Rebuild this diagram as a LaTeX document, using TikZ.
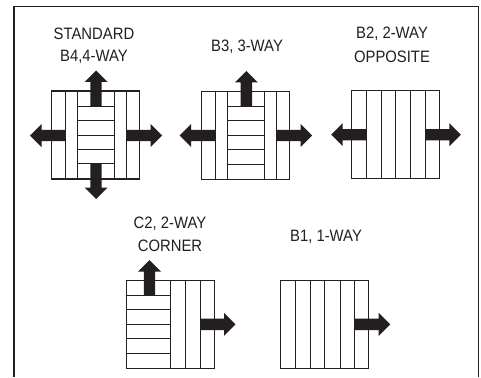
\documentclass[tikz,border=0pt]{standalone}
\usepackage{fontspec}
\setmainfont[FakeStretch=0.9]{Liberation Sans}
\definecolor{ink}{HTML}{231F20}
\tikzset{
  frameline/.style={draw=ink,line width=1.3pt},
  outerbox/.style={draw=ink,line width=1.35pt},
  slat/.style={draw=ink,line width=1pt},
  flowarrow/.style={fill=ink,draw=none},
  caption/.style={text=ink,font=\fontsize{16.5}{16.5}\selectfont,inner sep=0pt,anchor=center}
}
% \flow{start x}{start y}{rotation}: block arrow from the start point
\newcommand{\flow}[3]{\fill[flowarrow,shift={(#1,#2)},rotate=#3]
  (0,-5.7) -- (24,-5.7) -- (24,-11.5) -- (35.5,0) -- (24,11.5) -- (24,5.7) -- (0,5.7) -- cycle;}
\begin{document}
\begin{tikzpicture}[x=1pt,y=-1pt]
\useasboundingbox (0,0) rectangle (481,377);
\fill[white] (0,0) rectangle (481,377);
% frame, open at the bottom
\draw[frameline] (14,377) -- (14,6.5) -- (478.3,6.5) -- (478.3,377);
% captions
\node[caption] (capstandard) at (94,33.5) {STANDARD};
\node[caption] (capbfour) at (94,57) {B4,4-WAY};
\node[caption] (capbthree) at (247,47) {B3, 3-WAY};
\node[caption] (capbtwoa) at (392,33.5) {B2, 2-WAY};
\node[caption] (capbtwob) at (392,56.5) {OPPOSITE};
\node[caption] (capctwoa) at (170,224) {C2, 2-WAY};
\node[caption] (capctwob) at (170,246) {CORNER};
\node[caption] (capbone) at (326,237) {B1, 1-WAY};
% B4
\foreach \x in {65.5,77.7,114,126.7} \draw[slat] (\x,91) -- (\x,179);
\foreach \y in {106,120.5,135,149.5,163.5} \draw[slat] (77.7,\y) -- (114,\y);
\draw[outerbox] (51.7,91) rectangle (139.5,179);
\flow{96}{106}{90}
\flow{65.5}{135.5}{180}
\flow{126.7}{135.5}{0}
\flow{96}{163.5}{270}
% B3
\foreach \x in {215,227.7,264,276.7} \draw[slat] (\x,91.5) -- (\x,179.5);
\foreach \y in {106.5,120.5,135.5,149.5,164} \draw[slat] (227.7,\y) -- (264,\y);
\draw[outerbox] (201.7,91.5) rectangle (289.5,179.5);
\flow{246.3}{106.5}{90}
\flow{215}{135.5}{180}
\flow{276.7}{135.5}{0}
% B2
\foreach \x in {366.7,381.7,395.3,410.7,425.3} \draw[slat] (\x,90.5) -- (\x,178.5);
\draw[outerbox] (351.3,90.5) rectangle (439.3,178.5);
\flow{366.7}{134.7}{180}
\flow{425.3}{134.7}{0}
% C2
\foreach \x in {170,185.7,200} \draw[slat] (\x,280.3) -- (\x,368.7);
\foreach \y in {295.7,309.7,324.3,338.3,353} \draw[slat] (126.3,\y) -- (170,\y);
\draw[outerbox] (126.3,280.3) rectangle (214.3,368.7);
\flow{149.5}{295.7}{90}
\flow{200}{324.3}{0}
% B1
\foreach \x in {295.7,310.7,324.3,340,354.7} \draw[slat] (\x,280.3) -- (\x,368.7);
\draw[outerbox] (280.7,280.3) rectangle (368.7,368.7);
\flow{354.7}{324.3}{0}
\end{tikzpicture}
\end{document}
